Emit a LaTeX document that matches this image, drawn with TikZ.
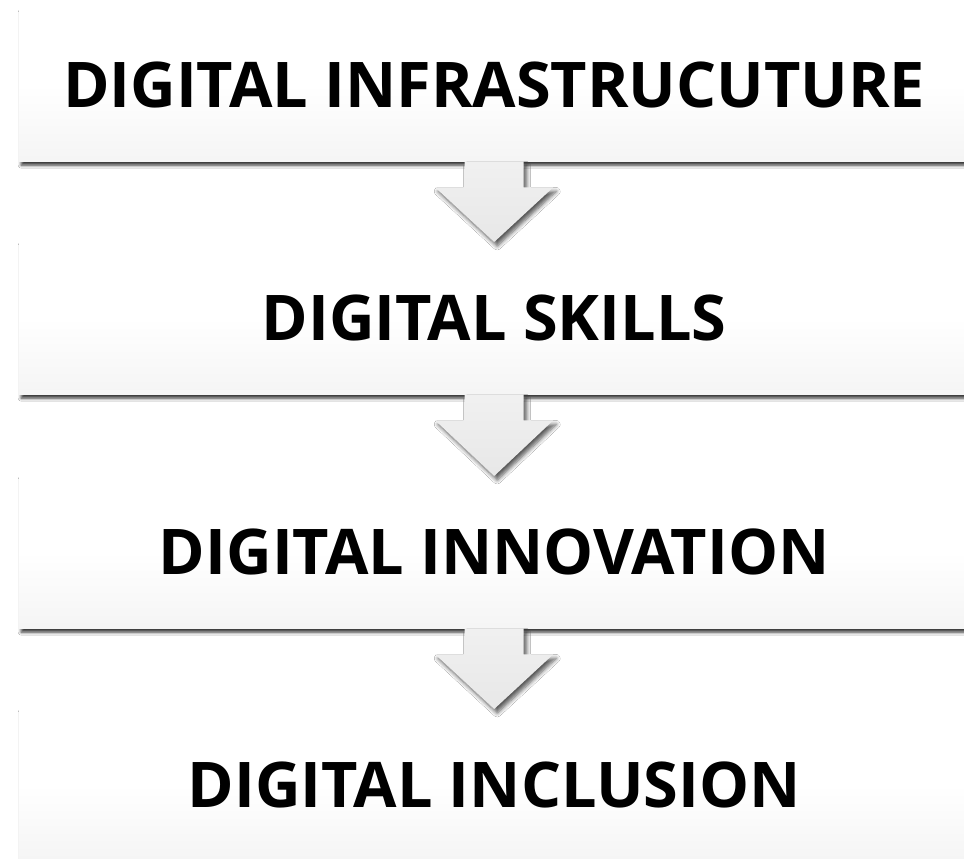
\documentclass[tikz,border=0pt]{standalone}
\usepackage{fontspec}
\setmainfont{Open Sans}
\usetikzlibrary{calc,shadows.blur}
% soft white-to-grey fill, grey only towards the bottom edge
\pgfdeclareverticalshading{stagefill}{100bp}{color(0bp)=(black!9); color(25bp)=(black!4); color(50bp)=(white); color(100bp)=(white)}
\pgfdeclareverticalshading{arrowfill}{100bp}{color(0bp)=(black!11); color(100bp)=(black!4)}
\begin{document}
\begin{tikzpicture}[x=1pt,y=1pt,
  stage/.style={minimum width=950pt, minimum height=153pt, inner sep=0pt,
    anchor=north west, shading=stagefill,
    blur shadow={shadow xshift=2pt, shadow yshift=-4pt, shadow blur steps=5,
      shadow blur radius=3pt, shadow opacity=80},
    font=\fontsize{63}{70}\selectfont\bfseries},
  flowarrow/.style={shading=arrowfill,
    blur shadow={shadow xshift=3pt, shadow yshift=-4pt, shadow blur steps=6,
      shadow blur radius=4pt, shadow opacity=65}}
]
\useasboundingbox (0,0) rectangle (964,-859);
\fill[white] (0,0) rectangle (964,-859);

\node[stage] (b1) at (19,-8)   {DIGITAL INFRASTRUCUTURE};
\node[stage] (b2) at (19,-241) {DIGITAL SKILLS};
\node[stage] (b3) at (19,-475) {DIGITAL INNOVATION};
\node[stage] (b4) at (19,-708) {DIGITAL INCLUSION};

% down arrows between consecutive stages
\foreach \a/\b in {b1/b2, b2/b3, b3/b4}{
  \path[flowarrow]
    ($(\a.south)+(-29.5,0)$) -- ($(\a.south)+(29.5,0)$)
    -- ($(\a.south)+(29.5,-26)$) -- ($(\a.south)+(59,-26)$)
    -- ($(\b.north)+(0,-1)$)
    -- ($(\a.south)+(-59,-26)$) -- ($(\a.south)+(-29.5,-26)$) -- cycle;
}
\end{tikzpicture}
\end{document}
